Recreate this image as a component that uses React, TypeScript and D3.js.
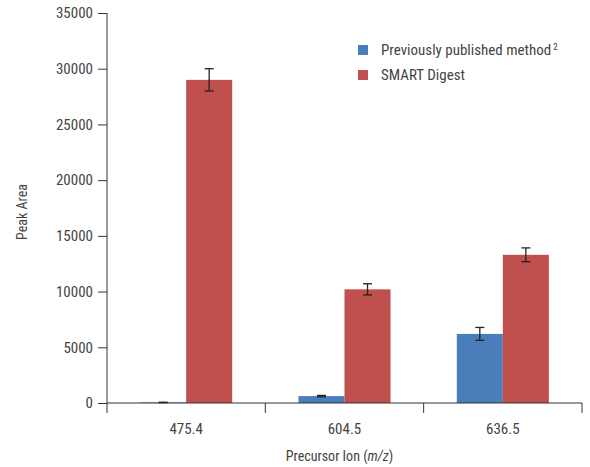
import { useEffect, useRef } from 'react'
import * as d3 from 'd3'

const categories = ['475.4', '604.5', '636.5']
const seriesNames = ['Previously published method', 'SMART Digest']
const previousValues = [50, 620, 6200]
const previousErrors = [20, 60, 580]
const smartValues = [29000, 10200, 13300]
const smartErrors = [1000, 500, 620]
const yTicks = [0, 5000, 10000, 15000, 20000, 25000, 30000, 35000]
const colors = ['#4a7ebb', '#c0504d']

const FONT = '"Liberation Sans Narrow", "Roboto Condensed", "Arial Narrow", sans-serif'

export default function App() {
  const svgRef = useRef<SVGSVGElement>(null)

  useEffect(() => {
    if (!svgRef.current) return
    const width = 590
    const height = 467
    const margin = { top: 13, right: 8, bottom: 64, left: 107 }
    const innerW = width - margin.left - margin.right
    const innerH = height - margin.top - margin.bottom

    const svg = d3.select(svgRef.current)
    svg.selectAll('*').remove()
    svg.attr('width', width).attr('height', height)

    const g = svg.append('g').attr('transform', `translate(${margin.left},${margin.top})`)

    const x = d3.scaleBand<string>().domain(categories).range([0, innerW]).paddingInner(0).paddingOuter(0)
    const x1 = d3.scaleBand<number>().domain([0, 1]).range([0, x.bandwidth()]).paddingOuter(0.72).paddingInner(0)
    const y = d3.scaleLinear().domain([0, 35000]).range([innerH, 0])

    const series = [
      { values: previousValues, errors: previousErrors },
      { values: smartValues, errors: smartErrors },
    ]

    series.forEach((s, si) => {
      const grp = g.append('g')
      categories.forEach((c, ci) => {
        const bx = (x(c) ?? 0) + (x1(si) ?? 0)
        grp.append('rect')
          .attr('x', bx)
          .attr('y', y(s.values[ci]))
          .attr('width', x1.bandwidth())
          .attr('height', innerH - y(s.values[ci]))
          .attr('fill', colors[si])
      })
    })

    // error bars
    series.forEach((s, si) => {
      categories.forEach((c, ci) => {
        const cx = (x(c) ?? 0) + (x1(si) ?? 0) + x1.bandwidth() / 2
        const top = y(s.values[ci] + s.errors[ci])
        const bot = y(s.values[ci] - s.errors[ci])
        const eb = g.append('g').attr('stroke', '#222').attr('stroke-width', 1.3)
        eb.append('line').attr('x1', cx).attr('x2', cx).attr('y1', top).attr('y2', bot)
        eb.append('line').attr('x1', cx - 4.5).attr('x2', cx + 4.5).attr('y1', top).attr('y2', top)
        eb.append('line').attr('x1', cx - 4.5).attr('x2', cx + 4.5).attr('y1', bot).attr('y2', bot)
      })
    })

    // y axis
    const yAxis = g.append('g')
      .call(d3.axisLeft(y).tickValues(yTicks).tickSize(9).tickPadding(5).tickFormat((d) => `${d}`))
    yAxis.selectAll('text').attr('fill', '#444').attr('font-size', 15).attr('font-family', FONT)
    yAxis.selectAll('.domain, .tick line').attr('stroke', '#333')
    yAxis.select('.domain').attr('d', `M0,0V${innerH}`)

    // x axis
    const xAxis = g.append('g').attr('transform', `translate(0,${innerH})`)
    xAxis.append('line').attr('x1', 0).attr('x2', innerW).attr('y1', 0).attr('y2', 0).attr('stroke', '#333')
    const boundaries = [...categories.map((c) => x(c) ?? 0), innerW]
    boundaries.forEach((bx) => {
      xAxis.append('line').attr('x1', bx).attr('x2', bx).attr('y1', 0).attr('y2', 10).attr('stroke', '#333')
    })
    categories.forEach((c) => {
      xAxis.append('text')
        .attr('x', (x(c) ?? 0) + x.bandwidth() / 2)
        .attr('y', 31)
        .attr('text-anchor', 'middle')
        .attr('fill', '#444')
        .attr('font-size', 15)
        .attr('font-family', FONT)
        .text(c)
    })

    // axis titles
    const xt = svg.append('text')
      .attr('x', margin.left + innerW / 2 - 5)
      .attr('y', 461)
      .attr('text-anchor', 'middle')
      .attr('fill', '#444')
      .attr('font-size', 14)
      .attr('font-family', FONT)
    xt.append('tspan').text('Precursor Ion (')
    xt.append('tspan').attr('font-style', 'italic').text('m/z')
    xt.append('tspan').text(')')

    svg.append('text')
      .attr('transform', `translate(27,${margin.top + innerH / 2 + 4}) rotate(-90)`)
      .attr('text-anchor', 'middle')
      .attr('fill', '#444')
      .attr('font-size', 14)
      .attr('font-family', FONT)
      .text('Peak Area')

    // legend
    const legend = svg.append('g').attr('transform', 'translate(358,45)')
    seriesNames.forEach((name, i) => {
      const row = legend.append('g').attr('transform', `translate(0,${i * 25})`)
      row.append('rect').attr('width', 10).attr('height', 10).attr('fill', colors[i])
      const t = row.append('text')
        .attr('x', 23)
        .attr('y', 10)
        .attr('fill', '#444')
        .attr('font-size', 15)
        .attr('font-family', FONT)
        .text(name)
      if (i === 0) {
        t.append('tspan').attr('dx', 2).attr('dy', -5).attr('font-size', 9).text('2')
      }
    })
  }, [])

  return <svg ref={svgRef} style={{ display: 'block', position: 'absolute', left: 0, top: 0 }} />
}
